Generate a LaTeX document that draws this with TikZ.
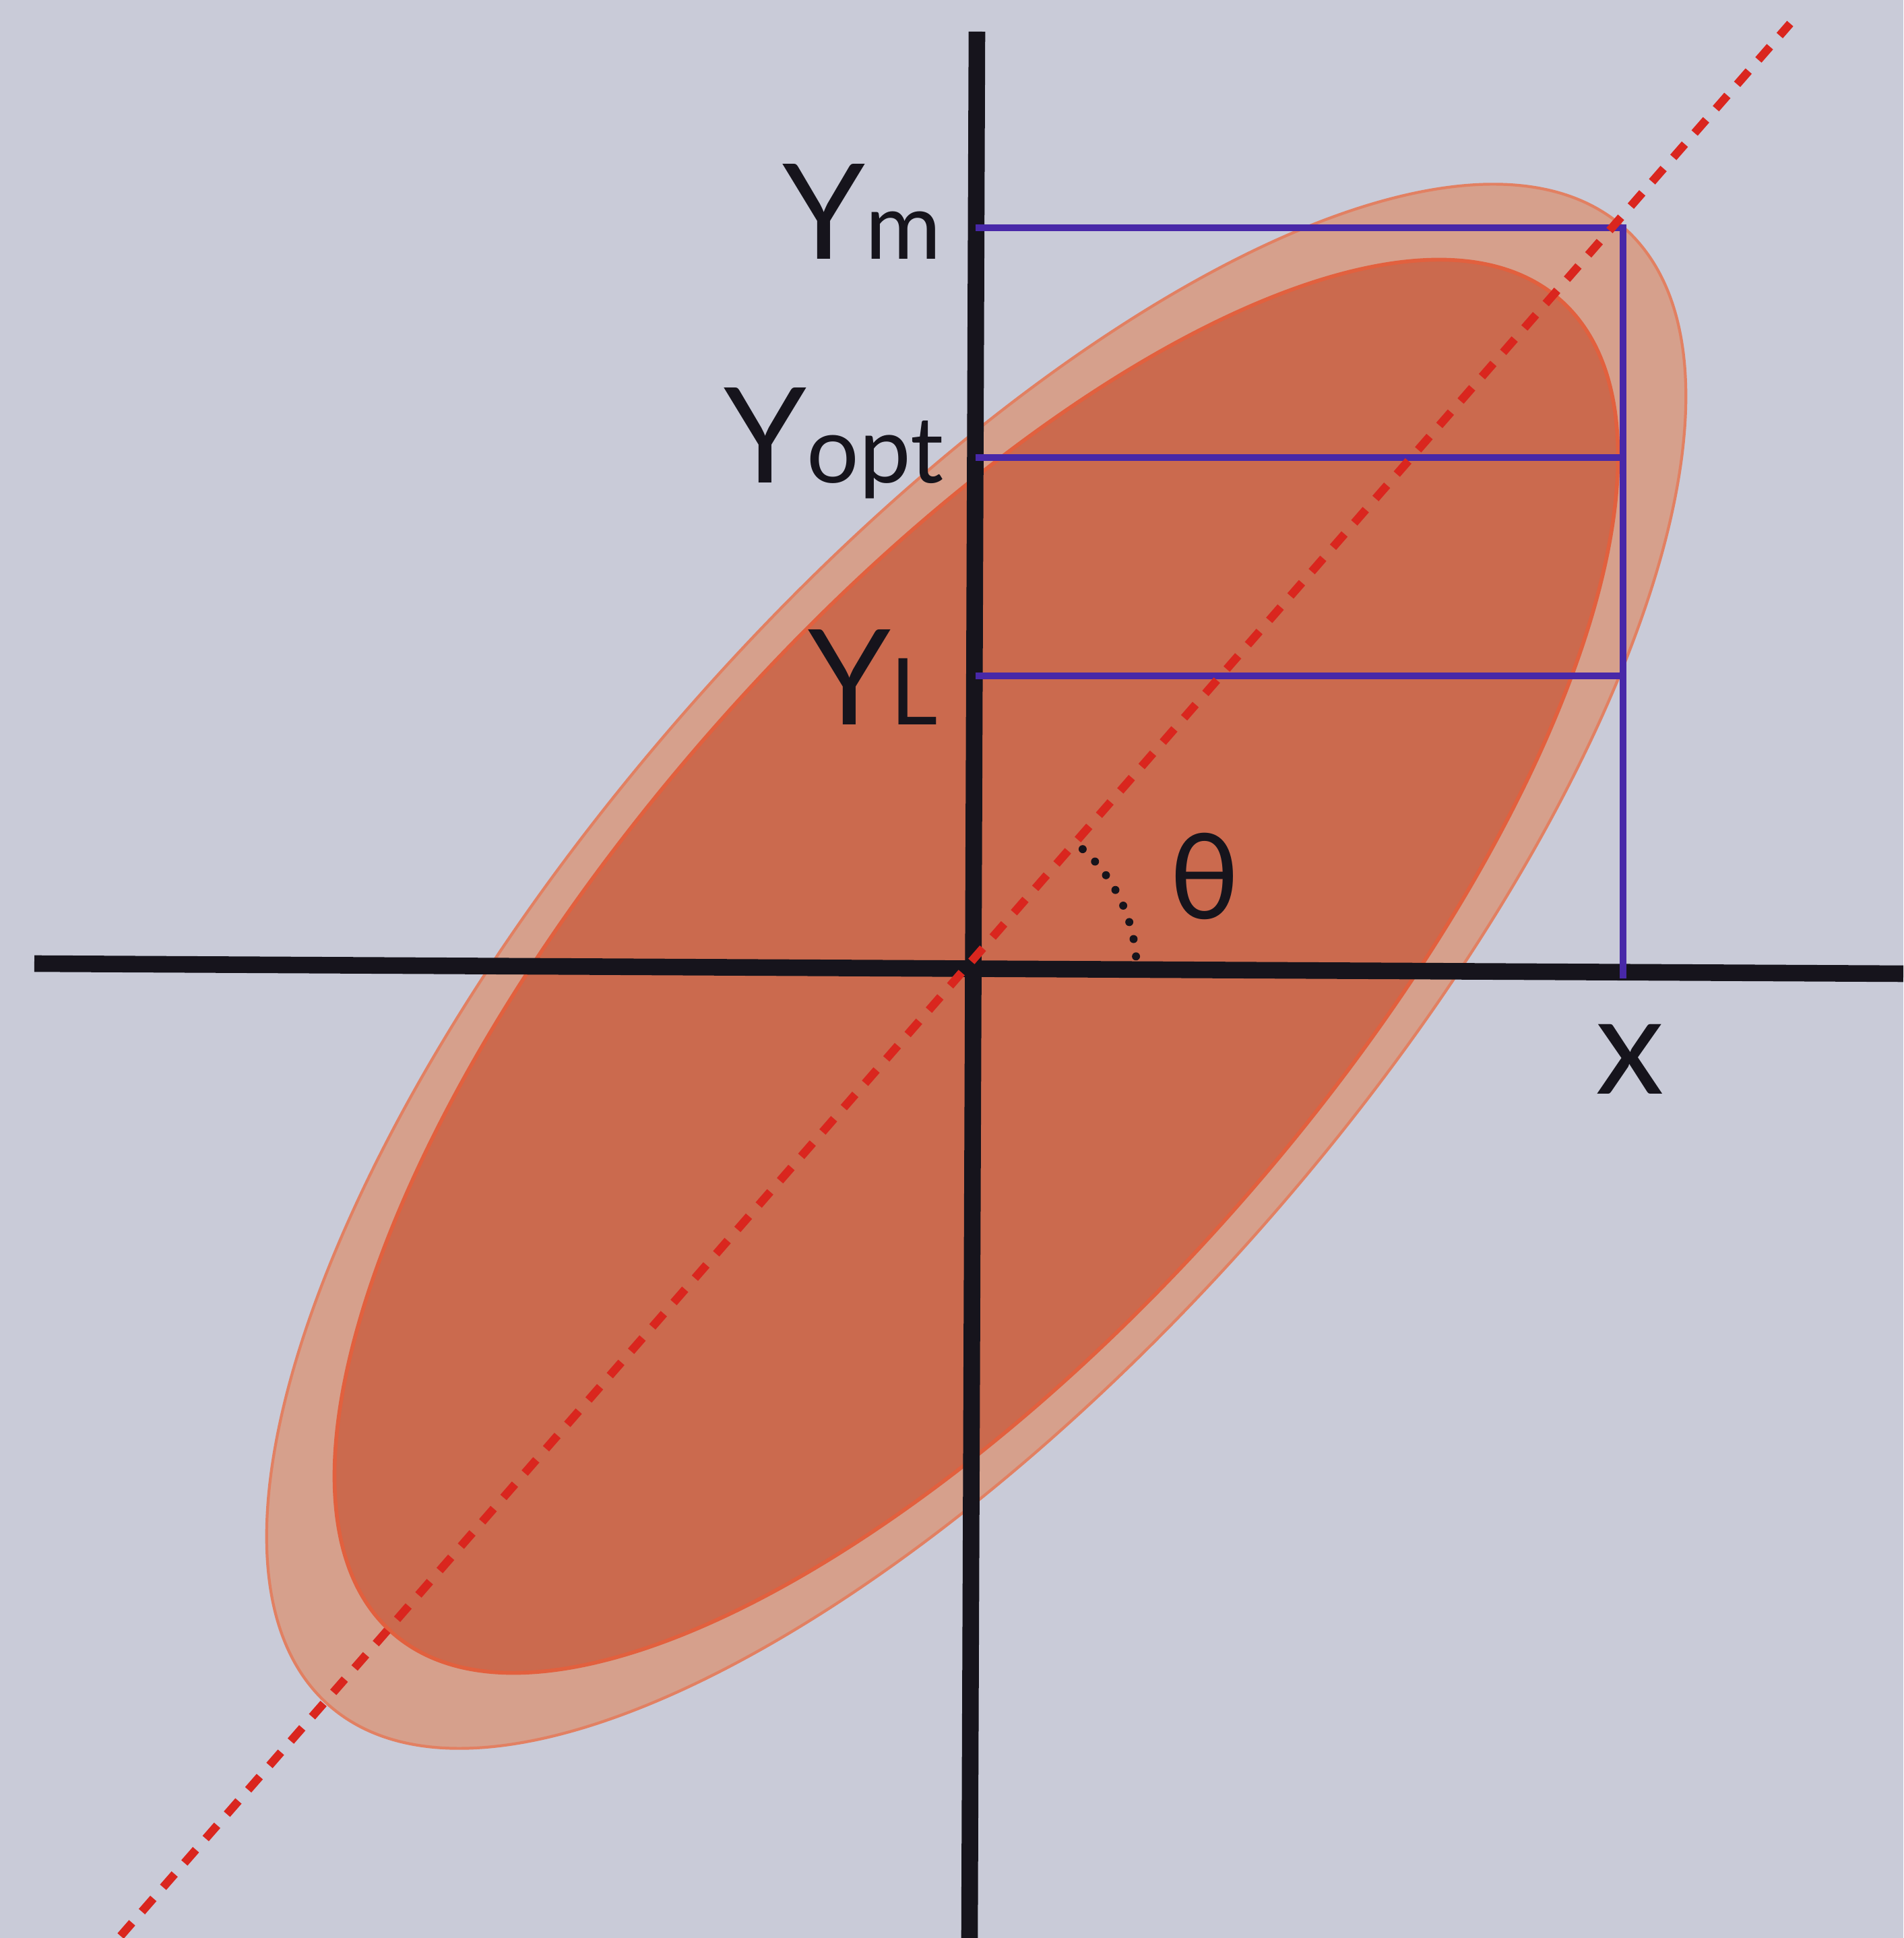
\documentclass[tikz,border=0pt]{standalone}
\usepackage{fontspec}
\setmainfont{Lato}

\definecolor{paper}{RGB}{201,203,216}
\definecolor{ringfill}{RGB}{214,160,140}
\definecolor{ringedge}{RGB}{226,128,98}
\definecolor{corefill}{RGB}{203,106,78}
\definecolor{coreedge}{RGB}{226,96,62}
\definecolor{guideblue}{RGB}{72,40,168}
\definecolor{dashred}{RGB}{218,38,30}
\definecolor{inkblack}{RGB}{22,20,28}

\newcommand{\bigtxt}{\fontsize{56}{60}\selectfont}
\newcommand{\subtxt}[1]{{\fontsize{39}{42}\selectfont #1}}

\begin{document}
\begin{tikzpicture}[
    axisline/.style={line width=7pt, inkblack},
    guide/.style={line width=3pt, guideblue},
    lab/.style={font=\bigtxt, text=inkblack, inner sep=0pt},
  ]
  \useasboundingbox[fill=paper] (-14.45,-14.36) rectangle (13.80,14.40);

  % --- 1. ellipses (outer ring, inner core) ---
  \filldraw[fill=ringfill, draw=ringedge, line width=1.2pt, shift={(0.04,0.06)}, rotate=48.8] (0,0) ellipse (14.58 and 5.74);
  \filldraw[fill=corefill, draw=coreedge, line width=1.6pt, shift={(0.04,0.06)}, rotate=48.8] (0,0) ellipse (13.15 and 5.26);

  % --- 2. axes ---
  \coordinate (O) at (0,0);
  \coordinate (XL) at (-13.94,0.10);
  \coordinate (XR) at (13.80,-0.05);
  \coordinate (YT) at (0.05,13.93);
  \coordinate (YB) at (-0.06,-14.36);
  \draw[axisline] (XL) -- (XR);
  \draw[axisline] (YB) -- (YT);

  % --- 3. blue guides: Y_m, Y_opt, Y_L and x ---
  \coordinate (Ym) at (0.03,11.02);
  \coordinate (Yo) at (0.03,7.61);
  \coordinate (Yl) at (0.03,4.37);
  \coordinate (C)  at (9.64,11.02);
  \coordinate (Co) at (9.64,7.61);
  \coordinate (Cl) at (9.64,4.37);
  \coordinate (Cx) at (9.64,-0.12);
  \draw[guide] (Ym) -- (C) -- (Cx);
  \draw[guide] (Yo) -- (Co);
  \draw[guide] (Yl) -- (Cl);

  % --- 4. regression line through O and the angle ---
  \coordinate (Dtop) at (12.12,14.05);
  \coordinate (Dbot) at (-12.66,-14.33);
  \draw[dashred, line width=3.5pt, dash pattern=on 0.26cm off 0.22cm] (Dbot) -- (Dtop);
  \draw[inkblack, line width=3.4pt, line cap=round, dash pattern=on 0pt off 0.26cm]
    ([shift={(48:2.42)}]O) arc (48:3:2.42);

  % labels
  \node[lab, anchor=base east] (lym) at (-0.47,10.55) {Y\subtxt{m}};
  \node[lab, anchor=base east] (lyo) at (-0.44,7.23) {Y\subtxt{opt}};
  \node[lab, anchor=base east] (lyl) at (-0.52,3.64) {Y\subtxt{L}};
  \node[lab, font=\fontsize{50}{54}\selectfont] (lth) at (3.43,1.40) {θ};
  \node[lab, font=\fontsize{58}{62}\selectfont] (lx) at (9.74,-1.32) {x};
\end{tikzpicture}
\end{document}
